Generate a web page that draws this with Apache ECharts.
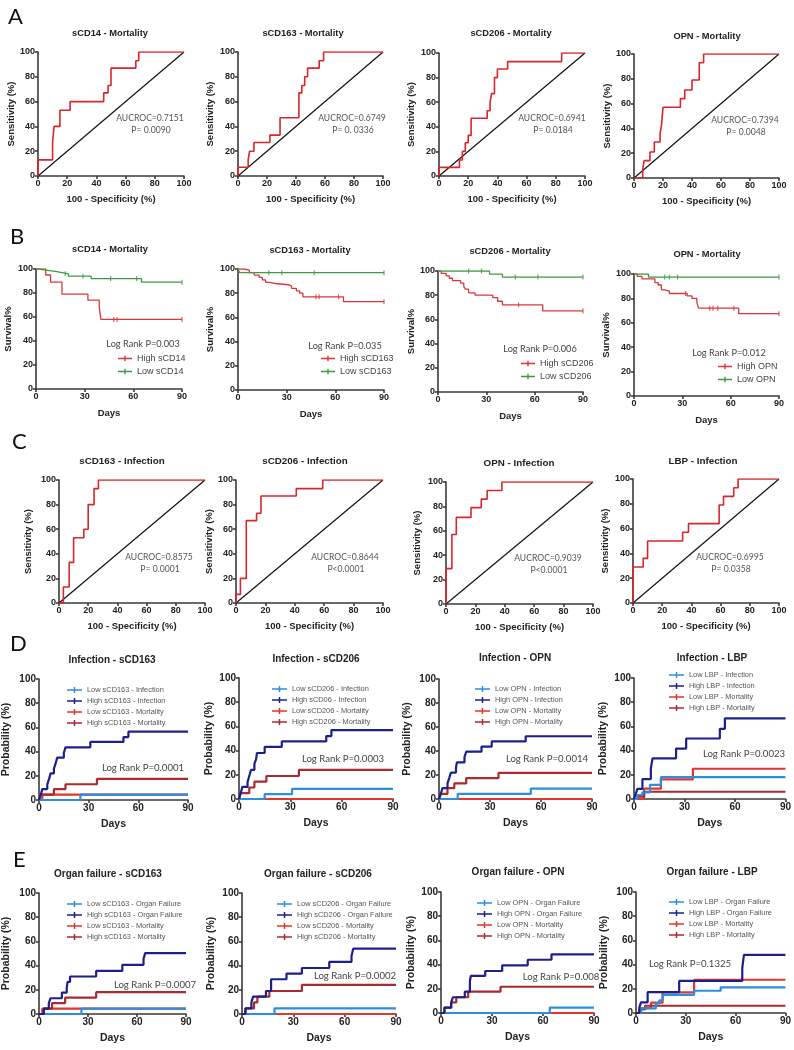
<!DOCTYPE html>
<html><head><meta charset="utf-8">
<script src="https://cdn.jsdelivr.net/npm/echarts@6/dist/echarts.min.js"></script>
<style>html,body{margin:0;padding:0;background:#fff}#c{width:794px;height:1050px}</style>
</head><body><div id="c"></div>
<script>
// ---------- DATA ----------
// Row A: ROC mortality (x = 100-specificity, y = sensitivity), step corners
const rocTitlesA = ['sCD14 - Mortality','sCD163 - Mortality','sCD206 - Mortality','OPN - Mortality'];
const rocA_sCD14  = [[0,0],[0,13],[10,27],[11,40],[15,53],[22,60],[45,67],[48,73],[50,87],[67,93],[69,100],[100,100]];
const rocA_sCD163 = [[0,0],[0,7],[7,13],[8,20],[11,27],[22,33],[29,47],[42,67],[44,73],[46,80],[48,87],[56,93],[59,100],[100,100]];
const rocA_sCD206 = [[0,0],[0,7],[14,13],[16,20],[18,27],[20,33],[22,47],[33,53],[35,60],[36,67],[38,80],[40,87],[47,93],[84,100],[100,100]];
const rocA_OPN    = [[0,0],[6,7],[7,14],[11,21],[14,29],[18,36],[19,43],[20,57],[32,64],[35,71],[40,79],[45,93],[48,100],[100,100]];
const aucA = ['AUCROC=0.7151','AUCROC=0.6749','AUCROC=0.6941','AUCROC=0.7394'];
const pA   = ['P= 0.0090','P= 0. 0336','P= 0.0184','P= 0.0048'];

// Row C: ROC infection
const rocTitlesC = ['sCD163 - Infection','sCD206 - Infection','OPN - Infection','LBP - Infection'];
const rocC_sCD163 = [[0,0],[3,13],[7,33],[10,53],[17,60],[20,80],[24,93],[27,100],[100,100]];
const rocC_sCD206 = [[0,0],[0,7],[3,20],[7,67],[14,73],[17,87],[41,93],[59,100],[100,100]];
const rocC_OPN    = [[0,0],[0,29],[4,57],[7,71],[17,79],[24,86],[28,93],[38,100],[100,100]];
const rocC_LBP    = [[0,0],[0,29],[7,36],[10,50],[34,57],[38,64],[59,79],[62,86],[69,93],[72,100],[100,100]];
const aucC = ['AUCROC=0.8575','AUCROC=0.8644','AUCROC=0.9039','AUCROC=0.6995'];
const pC   = ['P= 0.0001','P<0.0001','P<0.0001','P= 0.0358'];
const rocDiagonal = [[0,0],[100,100]];

// Row B: Kaplan-Meier survival (day, survival % after event)
const kmTitlesB = ['sCD14 - Mortality','sCD163 - Mortality','sCD206 - Mortality','OPN - Mortality'];
const kmHighNames = ['High sCD14','High sCD163','High sCD206','High OPN'];
const kmLowNames  = ['Low sCD14','Low sCD163','Low sCD206','Low OPN'];
const kmHigh_sCD14  = [[0,100],[6,95],[9,89],[16,79],[32,74],[39,68],[40,58],[90,58]];
const kmLow_sCD14   = [[0,100],[2,99],[6,98],[12,97],[16,96],[20,94],[34,92],[65,89],[90,89]];
const kmHigh_sCD163 = [[0,100],[4,99],[7,97],[10,95],[13,93],[15,91],[17,89],[20,88],[23,87],[31,86],[33,84],[36,82],[38,80],[40,77],[65,73],[90,73]];
const kmLow_sCD163  = [[0,100],[1,97],[90,97]];
const kmHigh_sCD206 = [[0,100],[2,98],[5,96],[7,94],[9,92],[14,90],[16,87],[17,85],[19,82],[23,80],[34,78],[37,75],[40,72],[65,67],[90,67]];
const kmLow_sCD206  = [[0,100],[32,97.5],[40,95],[90,95]];
const kmHigh_OPN    = [[0,100],[2,98],[5,96],[13,93],[15,91],[17,87],[19,86],[22,84],[33,82],[36,80],[39,77],[40,72],[65,67.5],[90,67.5]];
const kmLow_OPN     = [[0,100],[9,97.5],[90,97.5]];
const censHigh_sCD14 = [[48,58],[50,58],[90,58]];
const censLow_sCD14  = [[18,96],[29,94],[46,92],[62,92],[90,89]];
const censHigh_sCD163 = [[48,77],[50,77],[62,77],[90,73]];
const censLow_sCD163  = [[19,97],[27,97],[47,97],[90,97]];
const censHigh_sCD206 = [[50,72],[90,67]];
const censLow_sCD206  = [[19,100],[27,100],[48,95],[62,95],[90,95]];
const censHigh_OPN = [[32,84],[47,72],[49,72],[52,72],[62,72],[90,67.5]];
const censLow_OPN  = [[19,97.5],[22,97.5],[27,97.5],[90,97.5]];
const logRankB = ['Log Rank P=0.003','Log Rank P=0.035','Log Rank P=0.006','Log Rank P=0.012'];

// Row D: cumulative incidence, infection
const ciTitlesD = ['Infection - sCD163','Infection - sCD206','Infection - OPN','Infection - LBP'];
const legendD = [
  ['Low sCD163 - Infection','High sCD163 - Infection','Low sCD163 - Mortality','High sCD163 - Mortality'],
  ['Low sCD206 - Infection','High sCD06 - Infection','Low sCD206 - Mortality','High sCD206 - Mortality'],
  ['Low OPN - Infection','High OPN - Infection','Low OPN - Mortality','High OPN - Mortality'],
  ['Low LBP - Infection','High LBP - Infection','Low LBP - Mortality','High LBP - Mortality']];
const dLowInf_sCD163  = [[0,0],[25,4.5],[90,4.5]];
const dHighInf_sCD163 = [[0,0],[1,4],[2,9],[5,13],[6,17],[7,22],[9,26],[10,30],[11,35],[15,39],[16,43.5],[31,48],[51,52],[54,56.5],[90,56.5]];
const dLowMort_sCD163 = [[0,0],[2,4.5],[90,4.5]];
const dHighMort_sCD163= [[0,0],[1,4.5],[9,9],[16,13],[35,17.4],[90,17.4]];
const dLowInf_sCD206  = [[0,0],[15,4],[31,8.3],[90,8.3]];
const dHighInf_sCD206 = [[0,0],[1,5],[2,10],[5,14],[6,19],[7,24],[9,29],[10,33],[10.5,38],[15,43],[25,47.6],[51,52],[54,57],[90,57]];
const dLowMort_sCD206 = [[0,0],[90,0]];
const dHighMort_sCD206= [[0,0],[1,4.8],[6,9.5],[9,14.3],[16,19],[35,24],[90,24]];
const dLowInf_OPN  = [[0,0],[11,4.3],[54,8.7],[90,8.7]];
const dHighInf_OPN = [[0,0],[1,4],[2,9],[5,13],[6,17.4],[7,22],[10,26],[10.5,30.5],[15,35],[16,39.4],[25,43.7],[31,48],[51,52.3],[90,52.3]];
const dLowMort_OPN = [[0,0],[90,0]];
const dHighMort_OPN= [[0,0],[1,4.3],[5,9],[9,13],[16,17.4],[35,21.7],[90,21.7]];
const dLowInf_LBP  = [[0,0],[2,3.3],[5,5.5],[9.5,11.6],[16,18],[90,18]];
const dHighInf_LBP = [[0,0],[1,4],[2,8.3],[5,16.5],[10,25],[11,33.5],[25,41.7],[31,50],[51,58],[54,66.7],[90,66.7]];
const dLowMort_LBP = [[0,0],[6,8.5],[16,16.3],[35,25],[90,25]];
const dHighMort_LBP= [[0,0],[2,2],[6,6],[90,6]];
const logRankD = ['Log Rank P=0.0001','Log Rank P=0.0003','Log Rank P=0.0014','Log Rank P=0.0023'];

// Row E: cumulative incidence, organ failure
const ciTitlesE = ['Organ failure - sCD163','Organ failure - sCD206','Organ failure - OPN','Organ failure - LBP'];
const legendE = [
  ['Low sCD163 - Organ Failure','High sCD163 - Organ Failure','Low sCD163 - Mortality','High sCD163 - Mortality'],
  ['Low sCD206 - Organ Failure','High sCD206 - Organ Failure','Low sCD206 - Mortality','High sCD206 - Mortality'],
  ['Low OPN - Organ Failure','High OPN - Organ Failure','Low OPN - Mortality','High OPN - Mortality'],
  ['Low LBP - Organ Failure','High LBP - Organ Failure','Low LBP - Mortality','High LBP - Mortality']];
const eLowOF_sCD163  = [[0,0],[26,4.4],[90,4.4]];
const eHighOF_sCD163 = [[0,0],[3,4.4],[6,8.8],[7,13],[14,17.7],[17,22],[17.5,26.5],[19,31],[35,35.6],[51,40.6],[64,45.5],[65,50.3],[90,50.3]];
const eLowMort_sCD163 = [[0,0],[2,4.4],[90,4.4]];
const eHighMort_sCD163= [[0,0],[3,4.4],[8,9],[16,13.5],[35,18],[90,18]];
const eLowOF_sCD206  = [[0,0],[19,4.6],[90,4.6]];
const eHighOF_sCD206 = [[0,0],[2,4.6],[5.5,9.7],[6.5,14.4],[14,19],[17,28.7],[26,33.4],[35,38],[51,43],[64,48],[65,54],[90,54]];
const eLowMort_sCD206 = [[0,0],[90,0]];
const eHighMort_sCD206= [[0,0],[2,4.6],[7,9.6],[9,14.3],[16,19],[35,24],[90,24]];
const eLowOF_OPN  = [[0,0],[64,4.4],[90,4.4]];
const eHighOF_OPN = [[0,0],[2,4.4],[6,8.8],[7,13],[14,17.6],[17,26],[17.5,30.6],[26,34.7],[36,39.4],[51,44],[65,48.5],[90,48.5]];
const eLowMort_OPN = [[0,0],[90,0]];
const eHighMort_OPN= [[0,0],[2,4.4],[6,8.8],[9,13],[16,17.6],[35,21.7],[90,21.7]];
const eLowOF_LBP  = [[0,0],[3,3.8],[12,8],[14,10.5],[16,15],[35,18.4],[51,21.2],[90,21.2]];
const eHighOF_LBP = [[0,0],[2,4.4],[3,8.8],[7,17.2],[26,26.5],[64,37],[65,48],[90,48]];
const eLowMort_LBP = [[0,0],[3,4],[9,8.5],[16,17],[35,27.5],[90,27.5]];
const eHighMort_LBP= [[0,0],[2,3],[5.5,6],[90,6]];
const logRankE = ['Log Rank P=0.0007','Log Rank P=0.0002','Log Rank P=0.008','Log Rank P=0.1325'];

const panelLetters = ['A','B','C','D','E'];

// ---------- LAYOUT (pixels) ----------
const gridsPx = [
  [38,52,146,124],[238,52,145,124],[439,53,146,123],[634,54,145,124],
  [36,269,146,120],[238,269,146,121],[438,271,145,121],[634,274,145,122],
  [59,480,146,123],[236,480,147,123],[446,482,147,122],[633,479,146,124],
  [36,679,152,121],[239,678,154,121],[439,679,153,120],[634,678,154,121],
  [32,893,154,121],[242,893,154,121],[441,892,153,121],[636,892,153,121]];
const titlePos = [[110,33],[303,33],[511,33],[707,36],[110,249],[310,250],[510,251],[707,254],
  [122,461],[305,461],[519,463],[703,461],[112,660],[316,659],[515,658],[712,658],
  [108,874],[318,874],[518,872],[712,872]];
const titleSize = [9.3,9.3,9.3,9.3, 9.3,9.3,9.3,9.3, 9.8,9.8,9.8,9.8, 10,10,10,10, 10,10,10,10];
const yNameGap = [22,23,23,22, 23,23,22,23, 26,21,24,23, 27,24,26,25, 27,25,24,26];
const aucPos = [[150,118],[352,118],[552,118],[745,120],[159,557],[345,557],[548,558],[730,557]];
const bLogPos = [[143,344],[345,346],[540,349],[729,353]];
const bLegPos = [[118,353],[321,353],[521,358],[718,361]];
const dLogPos = [[143,768],[343,759],[547,759],[744,754]];
const dLegPos = [[67,685],[272,684],[475,684],[669,670]];
const eLogPos = [[155,985],[355,976],[561,977],[690,964]];
const eLegPos = [[67,899],[277,899],[477,898],[669,897]];
const letterPos = [[8,17],[10,237],[12,442],[10,644],[13,860]];

// ---------- BUILD ----------
const AX = '#3a3a3a';
const BOLD = 'Liberation Sans';
const NOTE = 'Lato';
function mkAxis(gi,min,max,interval,name,gap,fs){
  return {gridIndex:gi,type:'value',min,max,interval,name,nameLocation:'middle',nameGap:gap,
    nameTextStyle:{fontFamily:BOLD,fontWeight:'bold',fontSize:fs+0.5,color:'#222'},
    axisLine:{show:true,onZero:false,lineStyle:{color:AX,width:1.6}},
    axisTick:{show:true,length:3,lineStyle:{color:AX,width:1.6}},
    axisLabel:{fontFamily:BOLD,fontWeight:'bold',fontSize:fs,color:'#222',margin:3},
    splitLine:{show:false}};
}
const option = {animation:false,backgroundColor:'#fff',grid:[],xAxis:[],yAxis:[],series:[],legend:[],graphic:[]};
function txt(x,y,text,font,size,weight,color,align){
  option.graphic.push({type:'text',x,y,silent:true,style:{text,fontFamily:font,fontSize:size,fontWeight:weight||'normal',fill:color||'#222',align:align||'center',verticalAlign:'middle'}});
}
for(let i=0;i<20;i++){
  const g=gridsPx[i];
  option.grid.push({left:g[0],top:g[1],width:g[2],height:g[3]});
  const row=Math.floor(i/4);
  const isRoc = row===0||row===2;
  const fs = row>=3?10:9;
  if(isRoc){
    option.xAxis.push(mkAxis(i,0,100,20,'100 - Specificity (%)',18,fs));
    option.yAxis.push(mkAxis(i,0,100,20,'Sensitivity (%)',yNameGap[i],fs));
  } else {
    option.xAxis.push(mkAxis(i,0,90,30,'Days',19,fs));
    option.yAxis.push(mkAxis(i,0,100,20,row===1?'Survival%':'Probability (%)',yNameGap[i],fs));
  }
}
// titles
const allTitles = rocTitlesA.concat(kmTitlesB, rocTitlesC, ciTitlesD, ciTitlesE);
allTitles.forEach((t,i)=>txt(titlePos[i][0],titlePos[i][1],t,BOLD,titleSize[i],'bold','#222'));
panelLetters.forEach((l,i)=>txt(letterPos[i][0],letterPos[i][1],l,NOTE,22,'normal','#111','left'));

// ROC rows
const rocCurves = [rocA_sCD14,rocA_sCD163,rocA_sCD206,rocA_OPN,rocC_sCD163,rocC_sCD206,rocC_OPN,rocC_LBP];
const rocPanels = [0,1,2,3,8,9,10,11];
const aucAll = aucA.concat(aucC), pAll = pA.concat(pC);
rocCurves.forEach((d,k)=>{
  const gi=rocPanels[k];
  option.series.push({type:'line',xAxisIndex:gi,yAxisIndex:gi,data:rocDiagonal,symbol:'none',silent:true,lineStyle:{color:'#111',width:1.2}});
  option.series.push({type:'line',step:'end',xAxisIndex:gi,yAxisIndex:gi,data:d,symbol:'none',silent:true,lineStyle:{color:'#d8262c',width:1.6}});
  txt(aucPos[k][0],aucPos[k][1],aucAll[k],NOTE,8.6,'normal','#555');
  txt(aucPos[k][0]+1,aucPos[k][1]+12,pAll[k],NOTE,8.6,'normal','#555');
});

// KM row B
const kmHighs=[kmHigh_sCD14,kmHigh_sCD163,kmHigh_sCD206,kmHigh_OPN];
const kmLows=[kmLow_sCD14,kmLow_sCD163,kmLow_sCD206,kmLow_OPN];
const censH=[censHigh_sCD14,censHigh_sCD163,censHigh_sCD206,censHigh_OPN];
const censL=[censLow_sCD14,censLow_sCD163,censLow_sCD206,censLow_OPN];
const KMRED='#d9373c', KMGREEN='#3f9a45';
const ICON='path://M0,4L20,4L20,6L0,6Z M9,1L11,1L11,9L9,9Z';
for(let k=0;k<4;k++){
  const gi=4+k;
  option.series.push({name:kmHighNames[k],type:'line',step:'end',xAxisIndex:gi,yAxisIndex:gi,data:kmHighs[k],symbol:'none',silent:true,color:KMRED,lineStyle:{color:KMRED,width:1.3}});
  option.series.push({name:kmLowNames[k],type:'line',step:'end',xAxisIndex:gi,yAxisIndex:gi,data:kmLows[k],symbol:'none',silent:true,color:KMGREEN,lineStyle:{color:KMGREEN,width:1.3}});
  option.series.push({type:'scatter',xAxisIndex:gi,yAxisIndex:gi,data:censH[k],symbol:'rect',symbolSize:[1.2,5],silent:true,itemStyle:{color:KMRED}});
  option.series.push({type:'scatter',xAxisIndex:gi,yAxisIndex:gi,data:censL[k],symbol:'rect',symbolSize:[1.2,5],silent:true,itemStyle:{color:KMGREEN}});
  txt(bLogPos[k][0],bLogPos[k][1],logRankB[k],NOTE,9.2,'normal','#444');
  option.legend.push({data:[kmHighNames[k],kmLowNames[k]],left:bLegPos[k][0],top:bLegPos[k][1],orient:'vertical',
    icon:ICON,itemWidth:14,itemHeight:6,itemGap:2,selectedMode:false,
    textStyle:{fontFamily:BOLD,fontSize:9,color:'#444',lineHeight:11,padding:[0,0,0,0]},padding:0});
}

// CI rows D and E
const C_LB='#2b8fe0', C_NV='#1d1f8c', C_RD='#e3342e', C_DR='#a92a30';
const dSets=[[dLowInf_sCD163,dHighInf_sCD163,dLowMort_sCD163,dHighMort_sCD163],
  [dLowInf_sCD206,dHighInf_sCD206,dLowMort_sCD206,dHighMort_sCD206],
  [dLowInf_OPN,dHighInf_OPN,dLowMort_OPN,dHighMort_OPN],
  [dLowInf_LBP,dHighInf_LBP,dLowMort_LBP,dHighMort_LBP]];
const eSets=[[eLowOF_sCD163,eHighOF_sCD163,eLowMort_sCD163,eHighMort_sCD163],
  [eLowOF_sCD206,eHighOF_sCD206,eLowMort_sCD206,eHighMort_sCD206],
  [eLowOF_OPN,eHighOF_OPN,eLowMort_OPN,eHighMort_OPN],
  [eLowOF_LBP,eHighOF_LBP,eLowMort_LBP,eHighMort_LBP]];
function ciRow(sets,names,base,logs,logPos,legPos){
  const cols=[C_LB,C_NV,C_RD,C_DR];
  const order=[2,3,0,1];
  for(let k=0;k<4;k++){
    const gi=base+k;
    order.forEach(j=>{
      option.series.push({name:names[k][j],type:'line',step:'end',xAxisIndex:gi,yAxisIndex:gi,data:sets[k][j],symbol:'none',silent:true,color:cols[j],lineStyle:{color:cols[j],width:2.2}});
    });
    txt(logPos[k][0],logPos[k][1],logs[k],NOTE,9.6,'normal','#444');
    option.legend.push({data:names[k],left:legPos[k][0],top:legPos[k][1],orient:'vertical',
      icon:ICON,itemWidth:15,itemHeight:6,itemGap:1,selectedMode:false,
      textStyle:{fontFamily:BOLD,fontSize:7.4,color:'#555',lineHeight:10},padding:0});
  }
}
ciRow(dSets,legendD,12,logRankD,dLogPos,dLegPos);
ciRow(eSets,legendE,16,logRankE,eLogPos,eLegPos);

const chart = echarts.init(document.getElementById('c'),null,{renderer:'canvas'});
chart.setOption(option);
</script></body></html>
